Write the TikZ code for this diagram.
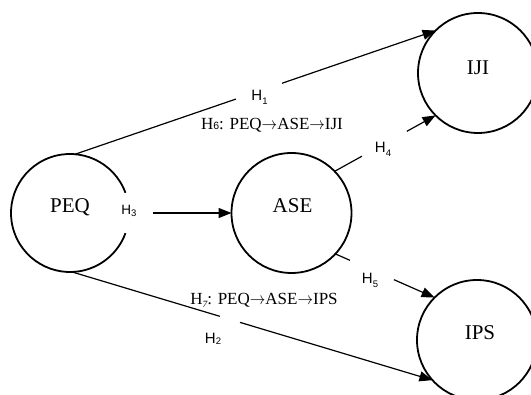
\documentclass[tikz,border=0pt]{standalone}
\usepackage{fontspec}
\setmainfont{Liberation Serif}
\newfontfamily\hsans{Liberation Sans}
\usetikzlibrary{arrows.meta,calc}
\newcommand{\lowsub}[2]{\raisebox{#1}{\fontsize{9.5}{9.5}\selectfont #2}}
\newcommand{\rarr}{\scalebox{0.9}[1]{$\rightarrow$}}
\begin{document}
\begin{tikzpicture}[x=1pt,y=1pt,
  circ/.style={circle, draw, line width=1.8pt, minimum size=120pt, inner sep=0pt, outer sep=0pt},
  conn/.style={line width=1.2pt},
  arr/.style={conn, -{Triangle[length=13pt,width=10pt]}},
  hlab/.style={font=\hsans\fontsize{15}{15}\selectfont, inner sep=0pt},
  ttext/.style={font=\fontsize{17}{17}\selectfont, inner sep=0pt},
  ctext/.style={font=\fontsize{21}{21}\selectfont, inner sep=0pt}]
\useasboundingbox (0,0) rectangle (531,395);
% circles
\node[circ, draw=none, minimum size=118pt] (PEQ) at (70,182) {};
\draw[line width=1.8pt] (PEQ.20) arc[start angle=20, end angle=340, radius=59pt];
\node[circ] (ASE) at (291.5,182) {};
\node[circ] (IJI) at (478,322) {};
\node[circ] (IPS) at (477,55) {};
\node[ctext] (PEQt) at ($(PEQ)+(0,6)$) {PEQ};
\node[ctext] (ASEt) at ($(ASE)+(1,7)$) {ASE};
\node[ctext] (IJIt) at ($(IJI)+(0,5)$) {IJI};
\node[ctext] (IPSt) at ($(IPS)+(3,7)$) {IPS};
% H1
\coordinate (h1a) at ($(PEQ.85)!0.446!(IJI.135)$);
\coordinate (h1b) at ($(PEQ.85)!0.574!(IJI.135)$);
\draw[conn] (PEQ.85) -- (h1a);
\draw[arr] (h1b) -- (IJI.135);
% H2
\coordinate (h2a) at ($(PEQ.-88)!0.41!(IPS.222)$);
\coordinate (h2b) at ($(PEQ.-88)!0.466!(IPS.222)$);
\draw[conn] (PEQ.-88) -- (h2a);
\draw[arr] (h2b) -- (IPS.222);
% H3
\coordinate (h3s) at (153,182);
\draw[arr] (h3s) -- (ASE.west);
% H4
\coordinate (h4a) at ($(ASE.44)!0.27!(IJI.225)$);
\coordinate (h4b) at ($(ASE.44)!0.715!(IJI.225)$);
\draw[conn] (ASE.44) -- (h4a);
\draw[arr] (h4b) -- (IJI.225);
% H5
\coordinate (h5a) at ($(ASE.-43)!0.147!(IPS.135)$);
\coordinate (h5b) at ($(ASE.-43)!0.59!(IPS.135)$);
\draw[conn] (ASE.-43) -- (h5a);
\draw[arr] (h5b) -- (IPS.135);
% labels
\node[hlab] (L1) at (259.5,298) {H\lowsub{-4pt}{1}};
\node[hlab] (L4) at (383,246) {H\lowsub{-4pt}{4}};
\node[hlab] (L5) at (370,115) {H\lowsub{-4pt}{5}};
\node[hlab, font=\hsans\fontsize{13.5}{13.5}\selectfont] (L3) at (129,184) {H\lowsub{-1.5pt}{3}};
\node[hlab] (L2) at (213,56) {H\lowsub{-1.5pt}{2}};
\node[ttext] (L6) at (272,270) {H{\hsans\fontsize{10.5}{10.5}\selectfont 6}: PEQ\rarr ASE\rarr IJI};
\node[ttext] (L7) at (264,95) {H\lowsub{-3pt}{\itshape 7}: PEQ\rarr ASE\rarr IPS};
\end{tikzpicture}
\end{document}
